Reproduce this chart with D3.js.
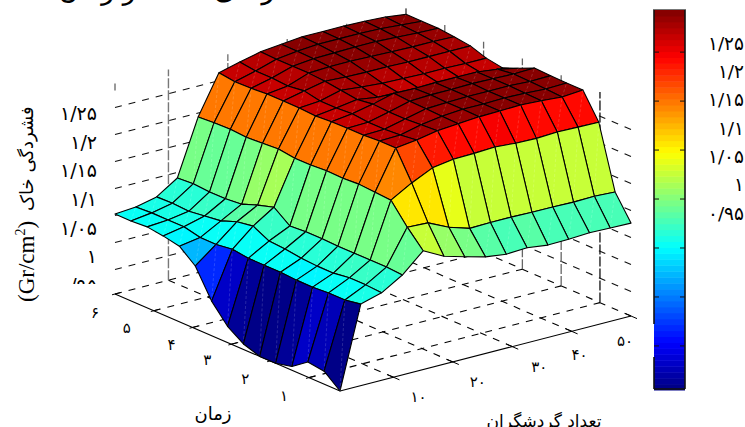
<!DOCTYPE html>
<html>
<head>
<meta charset="utf-8">
<script src="https://cdn.jsdelivr.net/npm/d3@7/dist/d3.min.js"></script>
<style>
    html, body { margin: 0; padding: 0; background: #fff; overflow: hidden; }
    svg { display: block; }
    text { font-family: "DejaVu Sans", sans-serif; fill: #000; }
</style>
</head>
<body>
<div id="chart"></div>
<script>
// visitors along the right floor edge, time along the left floor edge
var visitors = [1, 4.5, 8, 11.5, 15, 18.5, 22, 25.5, 29, 32.5, 36, 39.5, 43, 46.5, 50];
var times = [0.2, 0.61, 1.03, 1.44, 1.86, 2.27, 2.69, 3.1, 3.51, 3.93, 4.34, 4.76, 5.17, 5.59, 6];

// soil density, one row per visitors value, one column per time value
var density = [
    [0.900, 0.924, 0.928, 0.907, 0.900, 0.900, 0.910, 0.930, 0.964, 1.016, 1.040, 1.046, 1.050, 1.048, 1.048],
    [1.051, 1.046, 1.046, 1.044, 1.044, 1.046, 1.046, 1.046, 1.050, 1.046, 1.046, 1.053, 1.053, 1.053, 1.051],
    [1.062, 1.064, 1.064, 1.060, 1.060, 1.062, 1.066, 1.068, 1.083, 1.078, 1.067, 1.063, 1.059, 1.061, 1.060],
    [1.085, 1.087, 1.087, 1.087, 1.087, 1.088, 1.088, 1.086, 1.108, 1.099, 1.088, 1.085, 1.085, 1.087, 1.085],
    [1.120, 1.151, 1.188, 1.190, 1.192, 1.190, 1.191, 1.189, 1.189, 1.193, 1.191, 1.189, 1.191, 1.190, 1.188],
    [1.100, 1.149, 1.210, 1.262, 1.262, 1.260, 1.260, 1.259, 1.257, 1.259, 1.259, 1.259, 1.257, 1.256, 1.260],
    [1.089, 1.131, 1.228, 1.267, 1.263, 1.261, 1.261, 1.264, 1.262, 1.262, 1.268, 1.264, 1.266, 1.266, 1.270],
    [1.079, 1.119, 1.234, 1.274, 1.272, 1.270, 1.270, 1.272, 1.268, 1.272, 1.276, 1.278, 1.278, 1.278, 1.279],
    [1.074, 1.120, 1.235, 1.277, 1.278, 1.279, 1.280, 1.282, 1.262, 1.268, 1.274, 1.280, 1.282, 1.283, 1.283],
    [1.076, 1.120, 1.237, 1.280, 1.281, 1.281, 1.282, 1.281, 1.260, 1.265, 1.273, 1.280, 1.283, 1.286, 1.287],
    [1.071, 1.119, 1.234, 1.281, 1.281, 1.282, 1.282, 1.282, 1.258, 1.264, 1.273, 1.279, 1.284, 1.286, 1.287],
    [1.072, 1.119, 1.233, 1.282, 1.282, 1.282, 1.283, 1.282, 1.257, 1.263, 1.272, 1.278, 1.284, 1.286, 1.287],
    [1.074, 1.118, 1.235, 1.280, 1.281, 1.282, 1.282, 1.282, 1.257, 1.263, 1.272, 1.277, 1.282, 1.285, 1.286],
    [1.073, 1.119, 1.234, 1.277, 1.279, 1.280, 1.281, 1.277, 1.257, 1.262, 1.272, 1.277, 1.280, 1.282, 1.284],
    [1.072, 1.117, 1.233, 1.280, 1.280, 1.281, 1.282, 1.269, 1.257, 1.262, 1.272, 1.276, 1.279, 1.279, 1.279]
];

var xTicks = [10, 20, 30, 40, 50];
var xTickLabels = ['۱۰', '۲۰', '۳۰', '۴۰', '۵۰'];
var tTicks = [1, 2, 3, 4, 5, 6];
var tTickLabels = ['۱', '۲', '۳', '۴', '۵', '۶'];
var zTicks = [0.95, 1, 1.05, 1.1, 1.15, 1.2, 1.25];
var zTickLabels = ['۰/۹۵', '۱', '۱/۰۵', '۱/۱', '۱/۱۵', '۱/۲', '۱/۲۵'];

var width = 745, height = 427;

var svg = d3.select('#chart').append('svg')
    .attr('width', width)
    .attr('height', height);

// Scales for the 3D box
var xScale = d3.scaleLinear().domain([1, 50]).range([0, 1]);
var tScale = d3.scaleLinear().domain([0.2, 6]).range([0, 1]);
var zScale = d3.scaleLinear().domain([0.9, 1.29]).range([0, 210.6]);

// Flat projection of the box, front floor corner at (340, 391)
function project(x, t, z) {
    var fx = xScale(x), ft = tScale(t);
    return [
        340 + 291 * fx - 225 * ft,
        391 - 75 * fx - 97 * ft - zScale(z)
    ];
}

function jet(f) {
    var r = Math.min(4 * f - 1.5, -4 * f + 4.5),
        g = Math.min(4 * f - 0.5, -4 * f + 3.5),
        b = Math.min(4 * f + 0.5, -4 * f + 2.5);
    return d3.rgb(255 * Math.max(0, Math.min(1, r)), 255 * Math.max(0, Math.min(1, g)), 255 * Math.max(0, Math.min(1, b))).formatHex();
}

var jetColors = d3.range(64).map(function (i) {
    return jet((i + 0.5) / 64);
});
var color = d3.scaleQuantize().domain([0.9, 1.285]).range(jetColors);

var line = d3.line();

// ---- walls and floor, behind the surface
var zFloor = zScale.domain()[0], zTop = zScale.domain()[1];
var xEnd = xScale.domain(), tEnd = tScale.domain();
var grid = svg.append('g').attr('fill', 'none');

function gridLine(a, b, stroke, strokeWidth, dash) {
    grid.append('path')
        .attr('d', line([a, b]))
        .attr('stroke', stroke)
        .attr('stroke-width', strokeWidth)
        .attr('stroke-dasharray', dash);
}

// the wall grid sits a little lower than the surface's zero in the source
var wallDrop = 2.5;
function dropped(p) {
    return [p[0], p[1] + wallDrop];
}

zTicks.forEach(function (z) {
    gridLine(dropped(project(xEnd[0], tEnd[1], z)), dropped(project(xEnd[1], tEnd[1], z)), '#111', 1.1, '7 7');
    gridLine(dropped(project(xEnd[1], tEnd[0], z)), dropped(project(xEnd[1], tEnd[1], z)), '#111', 1.1, '7 7');
});

xTicks.forEach(function (x) {
    gridLine(project(x, tEnd[0], zFloor), project(x, tEnd[1], zFloor), '#000', 1.1, '7 7');
    gridLine(project(x, tEnd[1], zFloor), project(x, tEnd[1], zTop), '#777', 1.4, '10 2');
});

tTicks.forEach(function (t) {
    gridLine(project(xEnd[0], t, zFloor), project(xEnd[1], t, zFloor), '#000', 1.1, '7 7');
    gridLine(project(xEnd[1], t, zFloor), project(xEnd[1], t, zTop), t === 1 ? '#111' : '#666', 1.3, '10 2');
});

// short stub of the corner line above the surface
var stubTop = project(xEnd[0], tEnd[1], zTop);
gridLine(stubTop, [stubTop[0], stubTop[1] + 7], '#555', 1.2, null);

// front floor edges and ticks
gridLine(project(xEnd[0], tEnd[0], zFloor), project(xEnd[1], tEnd[0], zFloor), '#000', 1.1, null);
gridLine(project(xEnd[0], tEnd[0], zFloor), project(xEnd[0], tEnd[1], zFloor), '#000', 1.1, null);

xTicks.forEach(function (x) {
    var p = project(x, tEnd[0], zFloor);
    gridLine([p[0] - 6, p[1] - 2.6], [p[0] + 6, p[1] + 2.6], '#000', 1, null);
});
tTicks.forEach(function (t) {
    var p = project(xEnd[0], t, zFloor);
    gridLine([p[0] + 6, p[1] - 1.6], [p[0] - 3, p[1] + 0.8], '#000', 1, null);
});

// ---- surface, far cells first
var cells = [];
d3.range(visitors.length - 1).forEach(function (i) {
    d3.range(times.length - 1).forEach(function (j) {
        cells.push({i: i, j: j});
    });
});
cells.sort(function (a, b) {
    return (b.i + b.j) - (a.i + a.j);
});

function vertex(i, j) {
    return project(visitors[i], times[j], density[i][j]);
}

var surface = svg.append('g');

var cell = surface.selectAll('.cell')
    .data(cells)
    .enter()
    .append('g')
    .attr('class', 'cell');

cell.append('path')
    .attr('d', function (d) {
        return line([vertex(d.i, d.j), vertex(d.i + 1, d.j), vertex(d.i + 1, d.j + 1), vertex(d.i, d.j + 1)]) + 'Z';
    })
    .attr('fill', function (d) {
        return color(density[d.i][d.j]);
    })
    .attr('stroke', '#000')
    .attr('stroke-width', 1.1)
    .attr('stroke-linejoin', 'round');

// pale seam along each cell's diagonal
cell.append('path')
    .attr('d', function (d) {
        return line([vertex(d.i, d.j), vertex(d.i + 1, d.j + 1)]);
    })
    .attr('fill', 'none')
    .attr('stroke', '#fff')
    .attr('stroke-opacity', 0.22)
    .attr('stroke-width', 0.7)
    .attr('stroke-dasharray', '3 2');

// ---- tick labels
// these were placed by hand in the source, so they don't follow the ticks exactly
var xLabelOffsets = [[25, 20], [25, 20], [27, 20], [8, 24], [-6, 25]];
var tLabelOffsets = [[-25, 18], [-25, 18], [-24, 16], [-21, 18], [-27, 17], [-20, 19]];

var labels = svg.append('g')
    .attr('font-size', 15)
    .attr('text-anchor', 'middle')
    .attr('dominant-baseline', 'central');

labels.selectAll('.x-label')
    .data(xTicks)
    .enter()
    .append('text')
    .attr('x', function (d, i) {
        return project(d, tEnd[0], zFloor)[0] + xLabelOffsets[i][0];
    })
    .attr('y', function (d, i) {
        return project(d, tEnd[0], zFloor)[1] + xLabelOffsets[i][1];
    })
    .text(function (d, i) {
        return xTickLabels[i];
    });

labels.selectAll('.t-label')
    .data(tTicks)
    .enter()
    .append('text')
    .attr('x', function (d, i) {
        return project(xEnd[0], d, zFloor)[0] + tLabelOffsets[i][0];
    })
    .attr('y', function (d, i) {
        return project(xEnd[0], d, zFloor)[1] + tLabelOffsets[i][1];
    })
    .text(function (d, i) {
        return tTickLabels[i];
    });

// z labels run on their own spacing, and the lowest one is cut off
var zLabelY = d3.scaleLinear().domain([0.95, 1.25]).range([285, 113]);

svg.append('clipPath')
    .attr('id', 'z-clip')
    .append('rect')
    .attr('x', 0)
    .attr('y', 0)
    .attr('width', 110)
    .attr('height', 284);

svg.append('g')
    .attr('clip-path', 'url(#z-clip)')
    .selectAll('text')
    .data(zTicks)
    .enter()
    .append('text')
    .attr('x', 97)
    .attr('y', function (d) {
        return zLabelY(d);
    })
    .attr('font-size', 19)
    .attr('text-anchor', 'end')
    .attr('direction', 'ltr')
    .attr('dominant-baseline', 'central')
    .text(function (d, i) {
        return zTickLabels[i];
    });

// ---- axis titles
svg.append('text')
    .attr('x', 213)
    .attr('y', 420)
    .attr('font-size', 18)
    .attr('text-anchor', 'middle')
    .text('زمان');

svg.append('text')
    .attr('x', 544)
    .attr('y', 427)
    .attr('font-size', 17)
    .attr('text-anchor', 'middle')
    .text('تعداد گردشگران');

svg.append('text')
    .attr('transform', 'translate(33,211) rotate(-90)')
    .attr('font-size', 18)
    .attr('text-anchor', 'start')
    .text('فشردگی خاک');

var unit = svg.append('text')
    .attr('transform', 'translate(34,302) rotate(-90)')
    .attr('font-size', 23)
    .style('font-family', '"Liberation Serif", serif');
unit.append('tspan').text('(Gr/cm');
unit.append('tspan').attr('font-size', 14).attr('dy', -9).text('2');
unit.append('tspan').attr('dy', 9).text(')');

// the title is cut off by the top of the picture, only its descenders show
svg.append('text')
    .attr('x', 186)
    .attr('y', -1)
    .attr('font-size', 27)
    .attr('text-anchor', 'middle')
    .text('فشردگی خاک در زمان');

// ---- colorbar
var barX = 654, barW = 31;
var barScale = d3.scaleLinear().domain([0.905, 1.293]).range([390, 10]);
var bandH = (barScale.range()[0] - barScale.range()[1]) / jetColors.length;

var bar = svg.append('g');

bar.selectAll('rect')
    .data(jetColors)
    .enter()
    .append('rect')
    .attr('x', barX)
    .attr('y', function (d, i) {
        return barScale.range()[0] - (i + 1) * bandH;
    })
    .attr('width', barW)
    .attr('height', bandH + 0.5)
    .attr('fill', function (d) {
        return d;
    });

function barLine(a, b, stroke, strokeWidth) {
    bar.append('path')
        .attr('d', line([a, b]))
        .attr('fill', 'none')
        .attr('stroke', stroke)
        .attr('stroke-width', strokeWidth);
}

barLine([barX - 1, 9.5], [barX + barW + 1, 9.5], '#777', 1.2);
barLine([barX, 10], [barX, 324], '#111', 1.6);
barLine([barX, 357], [barX, 389], '#111', 1.6);
barLine([barX + barW, 10], [barX + barW, 389], '#111', 1.6);
barLine([barX, 389], [barX + barW, 389], '#111', 1.6);

zTicks.forEach(function (z) {
    barLine([barX, barScale(z)], [barX + 5, barScale(z)], '#111', 1);
    barLine([barX + barW - 5, barScale(z)], [barX + barW, barScale(z)], '#111', 1);
});

// colorbar labels are not lined up with its ticks in the source
var barLabelY = d3.scaleLinear().domain([0.95, 1.25]).range([213, 43]);

svg.append('g')
    .selectAll('text')
    .data(zTicks)
    .enter()
    .append('text')
    .attr('x', 744)
    .attr('y', function (d) {
        return barLabelY(d);
    })
    .attr('font-size', 18.5)
    .attr('text-anchor', 'end')
    .attr('direction', 'ltr')
    .attr('dominant-baseline', 'central')
    .text(function (d, i) {
        return zTickLabels[i];
    });
</script>
</body>
</html>
